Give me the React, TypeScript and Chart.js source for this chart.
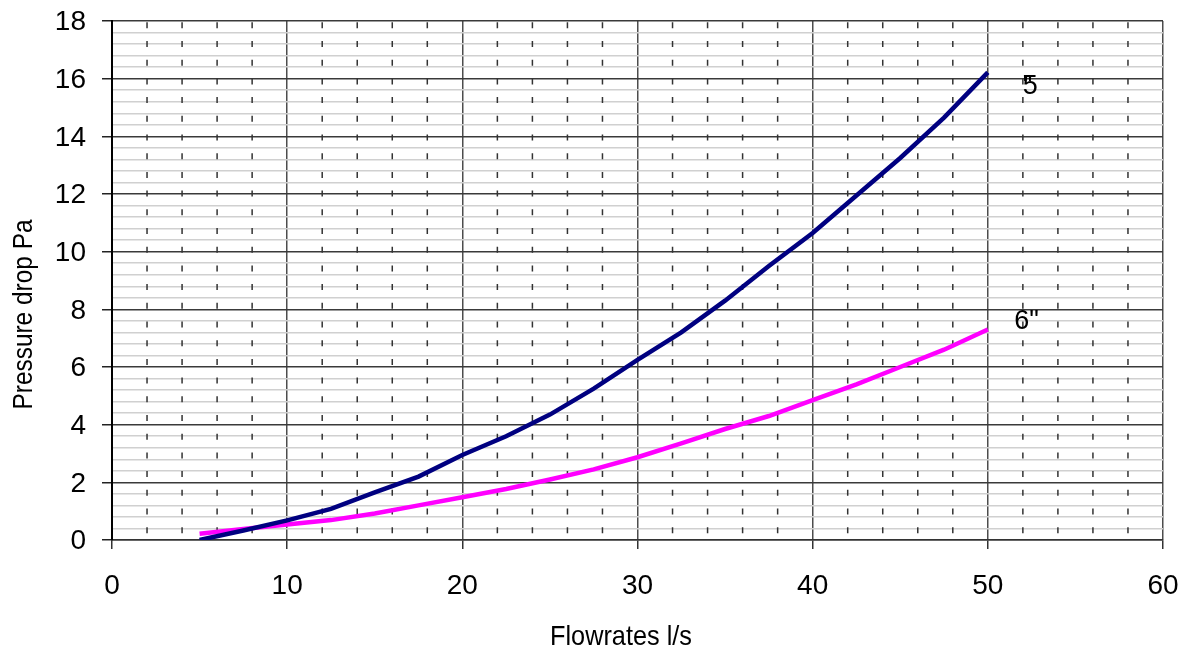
import React, { useEffect, useRef } from "react";
import { Chart, registerables } from "chart.js";

Chart.register(...registerables);

const flowRates = [5, 7.5, 10, 12.5, 15, 17.5, 20, 22.5, 25, 27.5, 30, 32.5, 35, 37.5, 40, 42.5, 45, 47.5, 50];
const drop5in = [0.0, 0.33, 0.68, 1.08, 1.65, 2.2, 2.95, 3.6, 4.35, 5.25, 6.25, 7.2, 8.3, 9.5, 10.65, 11.95, 13.25, 14.65, 16.22];
const drop6in = [0.22, 0.38, 0.54, 0.69, 0.92, 1.2, 1.48, 1.77, 2.1, 2.45, 2.87, 3.35, 3.85, 4.3, 4.85, 5.4, 6.0, 6.6, 7.3];
const seriesNames = ['5"', '6"'];
const seriesColors = ["#000080", "#FF00FF"];
const xTickValues = [0, 10, 20, 30, 40, 50, 60];
const xTickLabels = ["0", "10", "20", "30", "40", "50", "60"];
const yTickValues = [0, 2, 4, 6, 8, 10, 12, 14, 16, 18];
const yTickLabels = ["0", "2", "4", "6", "8", "10", "12", "14", "16", "18"];
const xTitle = "Flowrates l/s";
const yTitle = "Pressure drop Pa";

const FONT = "'Liberation Sans', Arial, sans-serif";

function labelFor(v: number, values: number[], labels: string[]) {
  const i = values.findIndex((t) => Math.abs(t - v) < 1e-6);
  return i >= 0 ? labels[i] : "";
}
function isMajor(v: number, values: number[]) {
  return values.some((t) => Math.abs(t - v) < 1e-6);
}

export default function App() {
  const ref = useRef<HTMLCanvasElement>(null);

  useEffect(() => {
    document.body.style.margin = "0";
    const canvas = ref.current!;
    Chart.defaults.font.family = FONT;

    const extras = {
      id: "extras",
      beforeDatasetsDraw(chart: any) {
        const { ctx, chartArea: a, scales } = chart;
        const xs = scales.x;
        ctx.save();
        ctx.strokeStyle = "#333333";
        ctx.lineWidth = 1.5;
        ctx.setLineDash([6, 12.7]);
        ctx.lineDashOffset = -1.3;
        xs.ticks.forEach((t: any) => {
          if (isMajor(t.value, xTickValues)) return;
          const px = xs.getPixelForValue(t.value);
          ctx.beginPath();
          ctx.moveTo(px, a.top);
          ctx.lineTo(px, a.bottom);
          ctx.stroke();
        });
        ctx.restore();
      },
      afterDatasetsDraw(chart: any) {
        const { ctx } = chart;
        ctx.save();
        ctx.fillStyle = "#000";
        ctx.font = `27px ${FONT}`;
        ctx.textAlign = "left";
        ctx.textBaseline = "alphabetic";
        const offsets = [
          [35, 21.5, "-15px"],
          [26.5, -1, "0px"],
        ];
        chart.data.datasets.forEach((ds: any, i: number) => {
          const meta = chart.getDatasetMeta(i);
          const last = meta.data[meta.data.length - 1];
          const o = offsets[i];
          (ctx as any).letterSpacing = o[2];
          ctx.fillText(ds.label, last.x + (o[0] as number), last.y + (o[1] as number));
        });
        (ctx as any).letterSpacing = "0px";

        // axis titles
        ctx.font = `28px ${FONT}`;
        ctx.textAlign = "center";
        ctx.textBaseline = "alphabetic";
        ctx.fillText(xTitle, 621, 645, 142);
        ctx.translate(31.5, 314.5);
        ctx.rotate(-Math.PI / 2);
        ctx.fillText(yTitle, 0, 0, 190);
        ctx.restore();
      },
    };

    const zeroPad = (s: any) => {
      s.paddingTop = 0;
      s.paddingBottom = 0;
      s.paddingLeft = 0;
      s.paddingRight = 0;
    };

    const chart = new Chart(canvas, {
      type: "line",
      data: {
        datasets: [
          {
            label: seriesNames[0],
            data: flowRates.map((x, i) => ({ x, y: drop5in[i] })),
            borderColor: seriesColors[0],
            backgroundColor: seriesColors[0],
            borderWidth: 4.5,
            pointRadius: 0,
            tension: 0,
            fill: false,
          },
          {
            label: seriesNames[1],
            data: flowRates.map((x, i) => ({ x, y: drop6in[i] })),
            borderColor: seriesColors[1],
            backgroundColor: seriesColors[1],
            borderWidth: 4.5,
            pointRadius: 0,
            tension: 0,
            fill: false,
          },
        ],
      },
      options: {
        responsive: false,
        animation: false,
        events: [],
        layout: { padding: { top: 21, right: 27, left: 0, bottom: 0 } },
        plugins: {
          legend: { display: false },
          tooltip: { enabled: false },
          title: { display: false },
        },
        scales: {
          x: {
            type: "linear",
            min: 0,
            max: 60,
            ticks: {
              stepSize: 2,
              autoSkip: false,
              maxRotation: 0,
              minRotation: 0,
              maxTicksLimit: 1000,
              padding: 20,
              color: "#000",
              font: { size: 28, family: FONT },
              callback: (v: any) => labelFor(Number(v), xTickValues, xTickLabels),
            },
            grid: {
              color: (c: any) => (isMajor(c.tick.value, xTickValues) ? "#4d4d4d" : "rgba(0,0,0,0)"),
              lineWidth: 1.5,
              tickLength: 9,
              tickColor: (c: any) => (isMajor(c.tick.value, xTickValues) ? "#333" : "rgba(0,0,0,0)"),
              tickWidth: 1.5,
            },
            border: { display: true, color: "#333", width: 1.5 },
            afterFit: (s: any) => {
              s.height = 112;
              zeroPad(s);
            },
          },
          y: {
            type: "linear",
            min: 0,
            max: 18,
            ticks: {
              stepSize: 0.4,
              autoSkip: false,
              maxTicksLimit: 1000,
              padding: 16,
              labelOffset: 1.5,
              color: "#000",
              font: { size: 28, family: FONT },
              callback: (v: any) => labelFor(Number(v), yTickValues, yTickLabels),
            },
            grid: {
              color: (c: any) => (isMajor(c.tick.value, yTickValues) ? "#3a3a3a" : "#d0d0d0"),
              lineWidth: 1.5,
              tickLength: 10,
              tickColor: (c: any) => (isMajor(c.tick.value, yTickValues) ? "#222" : "rgba(0,0,0,0)"),
              tickWidth: 1.5,
            },
            border: { display: true, color: "#000", width: 2 },
            afterFit: (s: any) => {
              s.width = 112;
              zeroPad(s);
            },
          },
        },
      },
      plugins: [extras],
    } as any);

    return () => {
      chart.destroy();
    };
  }, []);

  return (
    <div style={{ width: 1190, height: 652, position: "relative", background: "#fff" }}>
      <canvas ref={ref} width={1190} height={652} style={{ display: "block" }} />
    </div>
  );
}
